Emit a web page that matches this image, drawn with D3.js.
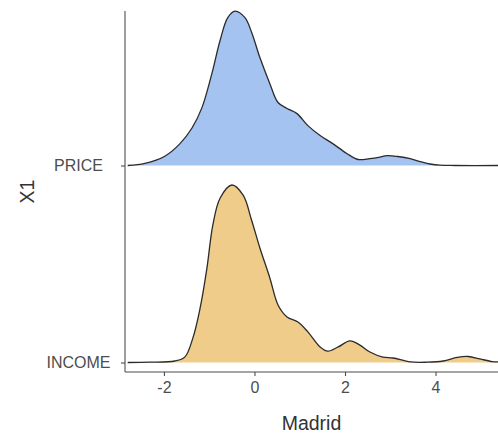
<!DOCTYPE html>
<html>
<head>
<meta charset="utf-8">
<script src="https://cdn.jsdelivr.net/npm/d3@7"></script>
<style>
  body { margin: 0; background: #fff; }
  svg { font-family: "Liberation Sans", Arial, sans-serif; }
</style>
</head>
<body>
<div id="chart"></div>
<script>
// categories, bottom to top
var categories = ["INCOME", "PRICE"];

// density curves
var priceX = [-2.80,-2.42,-1.98,-1.65,-1.38,-1.16,-0.94,-0.76,-0.59,-0.43,-0.21,-0.06,0.12,0.34,0.52,0.72,0.94,1.18,1.45,1.73,2.04,2.29,2.55,2.77,2.93,3.17,3.44,3.66,3.88,4.10,4.43,5.38];
var priceDensity = [0,0.007,0.031,0.072,0.125,0.193,0.307,0.417,0.493,0.515,0.493,0.443,0.36,0.273,0.21,0.19,0.173,0.133,0.1,0.073,0.04,0.02,0.023,0.028,0.033,0.03,0.023,0.013,0.005,0.001,0,0];

var incomeX = [-2.80,-2.31,-1.76,-1.54,-1.36,-1.20,-1.05,-0.92,-0.76,-0.50,-0.25,-0.07,0.12,0.34,0.52,0.72,0.96,1.18,1.45,1.62,1.85,2.11,2.33,2.55,2.84,3.06,3.44,3.81,4.17,4.48,4.72,4.98,5.25,5.38];
var incomeDensity = [0,0.001,0.005,0.018,0.082,0.182,0.315,0.458,0.548,0.592,0.558,0.478,0.382,0.282,0.192,0.152,0.135,0.102,0.052,0.038,0.052,0.072,0.058,0.035,0.018,0.015,0.002,0.001,0.005,0.017,0.02,0.012,0.003,0.002];

var xTicks = [-2, 0, 2, 4];
var fills = { PRICE: "#a4c3f0", INCOME: "#f0cc8a" };

var ridges = [
  { name: "PRICE", pts: priceX.map(function(x, i){ return { x: x, d: priceDensity[i] }; }) },
  { name: "INCOME", pts: incomeX.map(function(x, i){ return { x: x, d: incomeDensity[i] }; }) }
];

// set the specs
var width = 498;
var height = 434;
var plotLeft = 125;
var plotRight = 498;
var plotTop = 11;
var plotBottom = 372;

var svg = d3.select("#chart")
  .append("svg")
  .attr("width", width)
  .attr("height", height);

// scales
var xScale = d3.scaleLinear()
  .domain([-2.86, 5.38])
  .range([plotLeft, plotRight]);

var yScale = d3.scalePoint()
  .domain(categories)
  .range([362.5, 165.5]);

var maxDensity = d3.max(incomeDensity.concat(priceDensity));
var hScale = d3.scaleLinear()
  .domain([0, maxDensity])
  .range([0, 177.5]);

var curve = d3.curveCatmullRom.alpha(0.5);

// ridges
ridges.forEach(function(r){
  var base = yScale(r.name);
  var area = d3.area()
    .curve(curve)
    .x(function(d){ return xScale(d.x); })
    .y0(base)
    .y1(function(d){ return Math.min(base, base - hScale(d.d)); });
  var line = d3.line()
    .curve(curve)
    .x(function(d){ return xScale(d.x); })
    .y(function(d){ return base - hScale(d.d); });

  svg.append("path")
    .datum(r.pts)
    .attr("d", area)
    .attr("fill", fills[r.name])
    .attr("stroke", "none");

  svg.append("path")
    .datum(r.pts)
    .attr("d", line)
    .attr("fill", "none")
    .attr("stroke", "#2b2b2b")
    .attr("stroke-width", 1.3);
});

// axes
var xAxis = d3.axisBottom(xScale)
  .tickValues(xTicks)
  .tickFormat(function(d){ return String(d); })
  .tickSize(4)
  .tickPadding(6);

var gx = svg.append("g")
  .attr("transform", "translate(0," + plotBottom + ")")
  .call(xAxis);
gx.select(".domain").remove();
gx.append("line")
  .attr("x1", plotLeft).attr("x2", plotRight)
  .attr("stroke", "#4d4d4d").attr("stroke-width", 1.1);

var yAxis = d3.axisLeft(yScale)
  .tickSize(4)
  .tickPadding(0);

var gy = svg.append("g")
  .attr("transform", "translate(" + plotLeft + ",0)")
  .call(yAxis);
gy.select(".domain").remove();
gy.append("line")
  .attr("y1", plotTop).attr("y2", plotBottom)
  .attr("stroke", "#4d4d4d").attr("stroke-width", 1.1);
// labels are centred in their column
gy.selectAll(".tick text")
  .attr("text-anchor", "middle")
  .attr("x", 78.5 - plotLeft);

svg.selectAll(".tick line").attr("stroke", "#4d4d4d").attr("stroke-width", 1.1);
svg.selectAll(".tick text")
  .attr("fill", "#4d4d4d")
  .style("font-size", "16px")
  .style("font-family", "'Liberation Sans', Arial, sans-serif");

// titles
svg.append("text")
  .attr("x", (plotLeft + plotRight) / 2)
  .attr("y", 430)
  .attr("text-anchor", "middle")
  .attr("fill", "#333")
  .style("font-size", "19.5px")
  .text("Madrid");

svg.append("text")
  .attr("transform", "translate(34," + ((plotTop + plotBottom) / 2) + ") rotate(-90)")
  .attr("text-anchor", "middle")
  .attr("fill", "#333")
  .style("font-size", "19.5px")
  .text("X1");
</script>
</body>
</html>
